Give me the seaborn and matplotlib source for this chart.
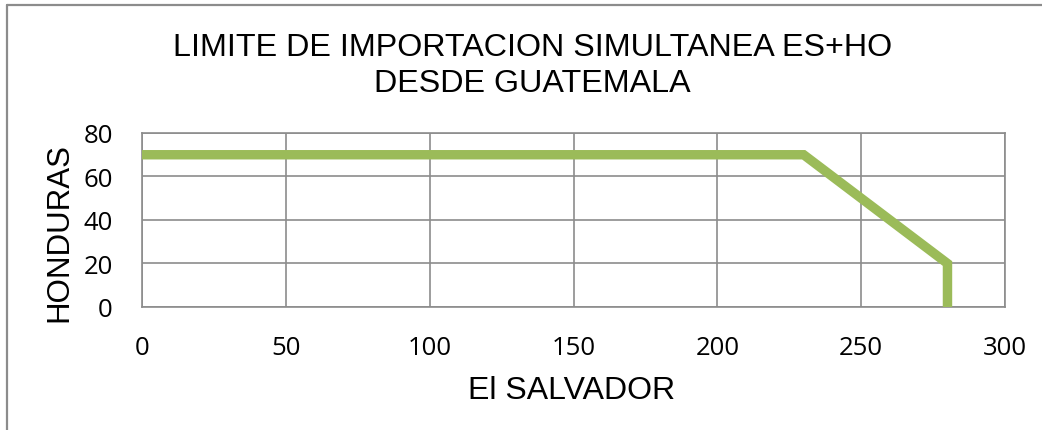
import matplotlib
matplotlib.use("Agg")
import matplotlib.pyplot as plt
import seaborn as sns
import pandas as pd
from matplotlib.lines import Line2D

# limit line: El Salvador (x) vs Honduras (y)
salvador = [0, 230, 280, 280]
honduras = [70, 70, 20, 0]
x_ticks = [0, 50, 100, 150, 200, 250, 300]
y_ticks = [0, 20, 40, 60, 80]

title_1 = "LIMITE DE IMPORTACION SIMULTANEA ES+HO"
title_2 = "DESDE GUATEMALA"

sns.set_style("white")
plt.rcParams['font.family'] = ['Liberation Sans', 'DejaVu Sans']
plt.rcParams['text.color'] = 'black'
plt.rcParams['axes.labelcolor'] = 'black'

df = pd.DataFrame({"x": salvador, "y": honduras})

fig = plt.figure(figsize=(10.42, 4.31), dpi=100)
ax = fig.add_axes([0.1363, 0.2854, 0.8282, 0.4037])

sns.lineplot(data=df, x="x", y="y", sort=False, estimator=None,
             color="#9BBB59", linewidth=6.8, ax=ax, zorder=3,
             solid_joinstyle="miter")

ax.set_xlim(0, 300)
ax.set_ylim(0, 80)
ax.set_xticks(x_ticks)
ax.set_yticks(y_ticks)
ax.grid(True, color="#8c8c8c", linewidth=1.2)
for s in ax.spines.values():
    s.set_color("#8c8c8c")
    s.set_linewidth(1.2)
ax.tick_params(length=0, labelsize=18.5, colors="black")
ax.tick_params(axis="y", pad=21)
ax.tick_params(axis="x", pad=20)
for lab in ax.get_xticklabels() + ax.get_yticklabels():
    lab.set_family(["Open Sans", "DejaVu Sans"])

ax.set_xlabel("El SALVADOR", fontsize=23, va="center")
ax.set_ylabel("HONDURAS", fontsize=22.5, va="center")
ax.xaxis.set_label_coords(0.498, -0.477)
ax.yaxis.set_label_coords(-0.0962, 0.431)

fig.text(0.511, 1 - 56 / 431, title_1, ha="center", va="baseline", fontsize=23.2)
fig.text(0.511, 1 - 92 / 431, title_2, ha="center", va="baseline", fontsize=23.2)

# outer chart frame (left and top edges visible)
fig.add_artist(Line2D([7 / 1042, 7 / 1042], [0, 1 - 5.5 / 431], color="#8c8c8c", linewidth=1.6,
                      transform=fig.transFigure))
fig.add_artist(Line2D([7 / 1042, 1], [1 - 5.5 / 431, 1 - 5.5 / 431], color="#8c8c8c", linewidth=1.6,
                      transform=fig.transFigure))

plt.savefig("out.png", dpi=100)
plt.close("all")
